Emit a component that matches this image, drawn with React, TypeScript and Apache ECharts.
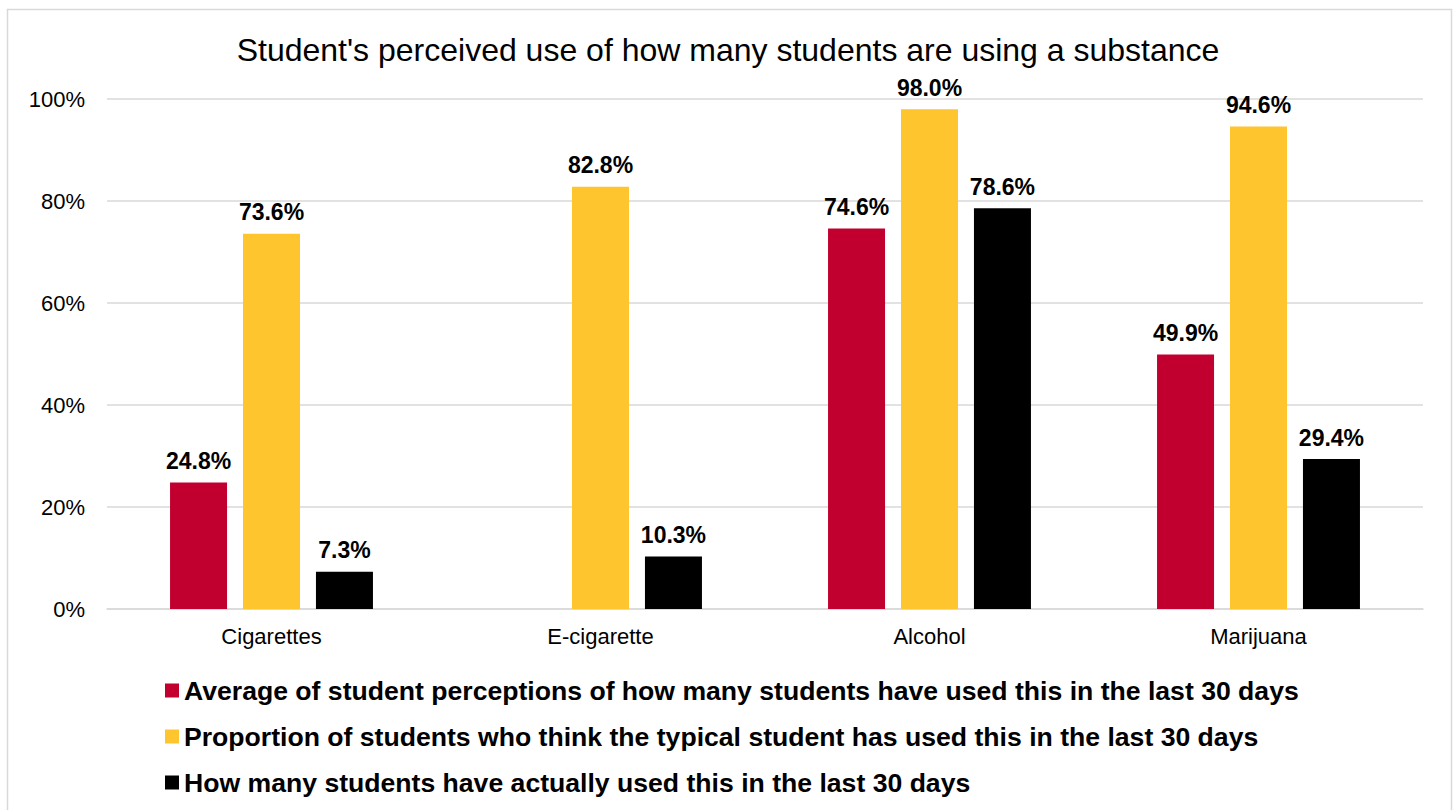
import React, { useEffect, useRef } from "react";
import * as echarts from "echarts";

const categories = ["Cigarettes", "E-cigarette", "Alcohol", "Marijuana"];
const seriesNames = [
  "Average of student perceptions of how many students have used this in the last 30 days",
  "Proportion of students who think the typical student has used this in the last 30 days",
  "How many students have actually used this in the last 30 days",
];
const perceivedAverage = [24.8, null, 74.6, 49.9];
const typicalStudent = [73.6, 82.8, 98.0, 94.6];
const actualUse = [7.3, 10.3, 78.6, 29.4];
const yTicks = [0, 20, 40, 60, 80, 100];
const colors = ["#C1002F", "#FFC52F", "#000000"];

const FONT = "'Liberation Sans', Arial, Helvetica, sans-serif";

export default function App() {
  const ref = useRef<HTMLDivElement>(null);
  useEffect(() => {
    if (!ref.current) return;
    const chart = echarts.init(ref.current, null, { renderer: "svg" });
    const label = {
      show: true,
      position: "top",
      distance: 10,
      fontFamily: FONT,
      fontSize: 23,
      fontWeight: "bold",
      color: "#000",
      formatter: (p: any) => (p.value == null ? "" : Number(p.value).toFixed(1) + "%"),
    };
    const datasets = [perceivedAverage, typicalStudent, actualUse];
    chart.setOption({
      animation: false,
      backgroundColor: "#fff",
      textStyle: { fontFamily: FONT },
      title: {
        text: "Student's perceived use of how many students are using a substance",
        left: "center",
        top: 29,
        textStyle: { fontFamily: FONT, fontSize: 32, fontWeight: "normal", color: "#000" },
      },
      graphic: [
        {
          type: "rect",
          shape: { x: 7.5, y: 9.5, width: 1444, height: 820 },
          style: { fill: "none", stroke: "#d9d9d9", lineWidth: 1.5 },
          silent: true,
        },
      ],
      legend: {
        orient: "vertical",
        left: 160,
        top: 672,
        itemWidth: 14,
        itemHeight: 14,
        itemGap: 19,
        icon: "rect",
        data: seriesNames,
        textStyle: { fontFamily: FONT, fontSize: 26.6, fontWeight: "bold", color: "#000", lineHeight: 26 },
      },
      grid: { left: 107, right: 33, top: 99, bottom: 201, containLabel: false },
      xAxis: {
        type: "category",
        data: categories,
        axisTick: { show: false },
        axisLine: { lineStyle: { color: "#d9d9d9", width: 1.5 } },
        axisLabel: { fontFamily: FONT, fontSize: 22, color: "#000", margin: 16 },
      },
      yAxis: {
        type: "value",
        min: yTicks[0],
        max: yTicks[yTicks.length - 1],
        interval: 20,
        axisLine: { show: false },
        axisTick: { show: false },
        splitLine: { lineStyle: { color: "#d9d9d9", width: 1.5 } },
        axisLabel: { fontFamily: FONT, fontSize: 22, color: "#000", margin: 22, formatter: "{value}%" },
      },
      series: seriesNames.map((name, i) => ({
        name,
        type: "bar",
        data: datasets[i],
        barWidth: 57,
        barGap: "28%",
        itemStyle: { color: colors[i] },
        label,
      })),
    });
    return () => chart.dispose();
  }, []);
  return (
    <div
      ref={ref}
      style={{ position: "fixed", left: 0, top: 0, width: 1456, height: 810 }}
    />
  );
}
